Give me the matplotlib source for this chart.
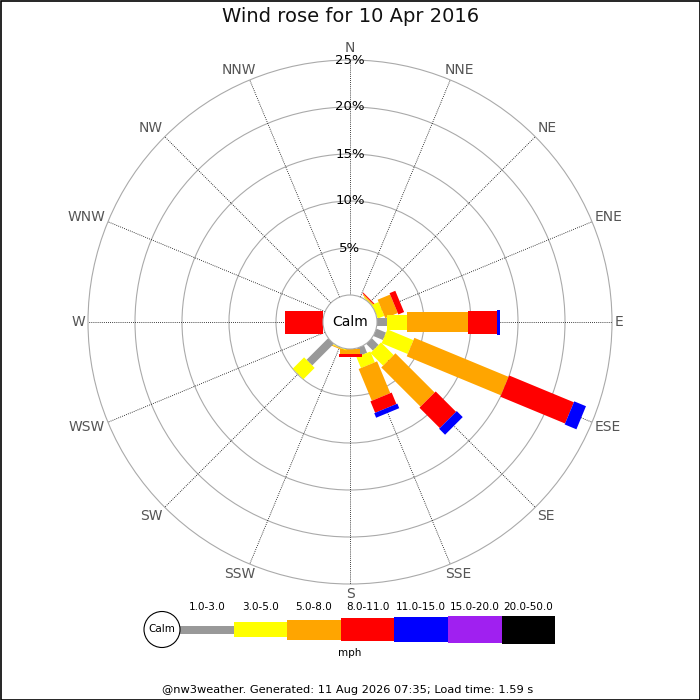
"""
Wind rose for 10 Apr 2016 (nw3weather style)
"""
import numpy as np
import matplotlib
matplotlib.use('Agg')
import matplotlib.pyplot as plt
from matplotlib.patches import Polygon, Circle, Rectangle

# ---- data -------------------------------------------------------------
directions = ['N', 'NNE', 'NE', 'ENE', 'E', 'ESE', 'SE', 'SSE',
              'S', 'SSW', 'SW', 'WSW', 'W', 'WNW', 'NW', 'NNW']
speed_bins = ['1.0-3.0', '3.0-5.0', '5.0-8.0', '8.0-11.0',
              '11.0-15.0', '15.0-20.0', '20.0-50.0']

# percent of time per direction, one list per speed bin (mph)
pct_1_3 = [0, 0, 0, 0, 1.06, 1.1, 1.0, 0.85, 0, 0, 3.24, 0, 0, 0, 0, 0]
pct_3_5 = [0, 0, 0.12, 0.75, 2.13, 3.0, 1.9, 1.25, 0.05, 0.1, 1.7, 0, 0, 0, 0, 0]
pct_5_8 = [0, 0, 0.12, 1.44, 6.5, 10.85, 5.9, 3.66, 0.53, 0.1, 0, 0, 0, 0, 0, 0]
pct_8_11 = [0, 0, 0.1, 0.66, 3.1, 7.45, 3.06, 1.32, 0.28, 0, 0, 0, 4.04, 0, 0, 0]
pct_11_15 = [0, 0, 0, 0, 0.3, 1.35, 0.9, 0.52, 0, 0, 0, 0, 0, 0, 0, 0]
pct_15_20 = [0] * 16
pct_20_50 = [0] * 16

grid_pcts = [5, 10, 15, 20, 25]

# ---- style ------------------------------------------------------------
bin_colors = ['#999999', '#ffff00', '#ffa500', '#ff0000',
              '#0000ff', '#a020f0', '#000000']
bar_px = [8, 15, 20, 23, 25, 27, 28]       # bar thickness per bin, pixels

PX = 9.4            # pixels per percent
CALM_PX = 27        # radius of calm circle in pixels
CX, CY = 350, 322   # centre of rose (pixels from top-left)
W = H = 700

CALM_R = CALM_PX / PX
R_OUT = CALM_R + grid_pcts[-1]

fig = plt.figure(figsize=(7, 7), dpi=100)

# rose axes in percent units, centred on the calm circle
ax = fig.add_axes([0, 0, 1, 1])
ax.set_xlim(-CX / PX, (W - CX) / PX)
ax.set_ylim(-(H - CY) / PX, CY / PX)
ax.axis('off')

theta = np.deg2rad(np.arange(16) * 22.5)

# grid circles
for p in grid_pcts:
    ax.add_patch(Circle((0, 0), CALM_R + p, fill=False, edgecolor='#aaaaaa',
                        linewidth=0.8, zorder=1))

# radial dotted lines
for t in theta:
    ax.plot([CALM_R * np.sin(t), R_OUT * np.sin(t)],
            [CALM_R * np.cos(t), R_OUT * np.cos(t)],
            color='black', linewidth=0.6, linestyle=(0, (1, 1.5)), zorder=1)

# bars
series = [pct_1_3, pct_3_5, pct_5_8, pct_8_11, pct_11_15, pct_15_20, pct_20_50]
for d, t in enumerate(theta):
    u = np.array([np.sin(t), np.cos(t)])
    perp = np.array([np.cos(t), -np.sin(t)])
    r0 = CALM_R
    for b, vals in enumerate(series):
        v = vals[d]
        if v <= 0:
            continue
        r1 = r0 + v
        hw = bar_px[b] / 2 / PX
        pts = [r0 * u + hw * perp, r1 * u + hw * perp,
               r1 * u - hw * perp, r0 * u - hw * perp]
        ax.add_patch(Polygon(pts, closed=True, facecolor=bin_colors[b],
                             edgecolor='none', zorder=3))
        r0 = r1

# calm circle
ax.add_patch(Circle((0, 0), CALM_R, facecolor='white', edgecolor='#aaaaaa',
                    linewidth=0.8, zorder=4))
ax.text(0, 0, 'Calm', ha='center', va='center', fontsize=10, zorder=5)

# percent labels on the north axis
for p in grid_pcts:
    ax.text(0, CALM_R + p, f'{p}%', ha='center', va='center',
            fontsize=9.5, zorder=5)

# compass labels, anchored at the end of each radial line
renderer = fig.canvas.get_renderer()
pad = 3 / PX
for name, t in zip(directions, theta):
    s, c = np.sin(t), np.cos(t)
    txt = ax.annotate(name, xy=((R_OUT + pad) * s, (R_OUT + pad) * c),
                      xytext=(0, 0), textcoords='offset pixels',
                      ha='center', va='center', fontsize=10, color='#555555',
                      zorder=5)
    bb = txt.get_window_extent(renderer=renderer)
    kx = np.clip(1.4 * s, -1, 1)
    ky = np.clip(1.4 * c, -1, 1)
    txt.xyann = (bb.width / 2 * kx, bb.height / 2 * ky + (2 if name == 'N' else 0))

# ---- overlay in pixel coordinates: title, legend, footer ---------------
ov = fig.add_axes([0, 0, 1, 1], facecolor='none')
ov.set_xlim(0, W)
ov.set_ylim(H, 0)
ov.axis('off')

ov.text(351, 17, 'Wind rose for 10 Apr 2016', ha='center', va='center',
        fontsize=14, color='#111111')

# legend
leg_x0, leg_y, seg_w = 180, 629.5, 53.6
ov.add_patch(Circle((162, leg_y), 18, facecolor='white', edgecolor='black',
                    linewidth=0.8, zorder=4))
ov.text(162, leg_y, 'Calm', ha='center', va='center', fontsize=7.5, zorder=5)
for i, (lab, col) in enumerate(zip(speed_bins, bin_colors)):
    x = leg_x0 + i * seg_w
    h = bar_px[i]
    ov.add_patch(Rectangle((x, leg_y - h / 2), seg_w, h, facecolor=col,
                           edgecolor='none', zorder=3))
    ov.text(x + seg_w / 2, 607, lab, ha='center', va='center', fontsize=7.5)
ov.text(350, 653, 'mph', ha='center', va='center', fontsize=7.5)

ov.text(348, 690, '@nw3weather. Generated: 11 Aug 2026 07:35; Load time: 1.59 s',
        ha='center', va='center', fontsize=8.2)

# frame round the whole image
ov.add_patch(Rectangle((0.5, 0.5), W - 1, H - 1, fill=False,
                       edgecolor='black', linewidth=1.2, zorder=10))

fig.savefig('out.png', dpi=100, facecolor='white')
